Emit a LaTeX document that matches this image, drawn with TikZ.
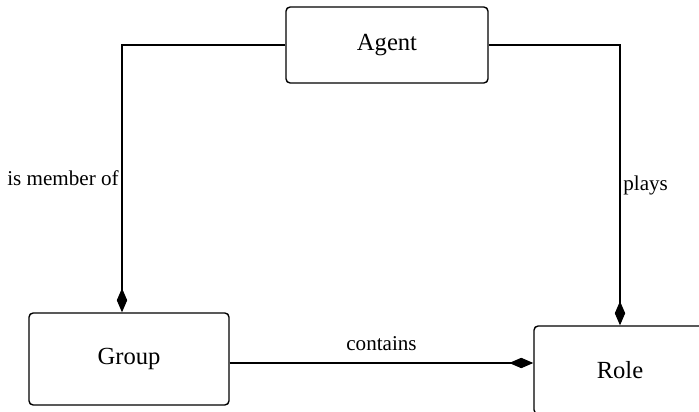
\documentclass[tikz,border=0pt]{standalone}
\usepackage{fontspec}
\setmainfont{Liberation Serif}
\usepackage{tikz}
\usetikzlibrary{arrows.meta,positioning,calc}
\tikzset{
	ent/.style={draw, rounded corners=3pt, line width=1pt, align=center,
		font=\fontsize{17.5}{20}\selectfont},
	rel/.style={line width=0.8pt, -{Diamond[length=6mm, width=2.6mm]}},
	lbl/.style={font=\fontsize{15}{17}\selectfont, inner sep=2pt},
}

\begin{document}
\begin{tikzpicture}[x=0.025cm, y=-0.025cm]
				\useasboundingbox (0,0) rectangle (699,412);
				\node[ent, minimum width=5.05cm, minimum height=1.9cm] at (387,45) (agent) {Agent};
				\node[ent, minimum width=5.0cm, minimum height=2.3cm] at (129,359) (group) {Group};
				\node[ent, minimum width=4.3cm, minimum height=2.2cm] at (620,370) (role) {Role};
				\coordinate (gin) at ($(group.north)+(-7,0)$);
				\coordinate (cout) at ($(group.east)+(0,4)$);
				\draw[rel] (agent.west) -| (gin) node[lbl, pos=0.75, left] {is member of};
				\draw[rel] (agent.east) -| (role.north) node[lbl, pos=0.75, right] {plays};
				\draw[rel] (cout) -- (cout -| role.west) node[lbl, pos=0.5, above=6pt] {contains};
			\end{tikzpicture}
\end{document}
